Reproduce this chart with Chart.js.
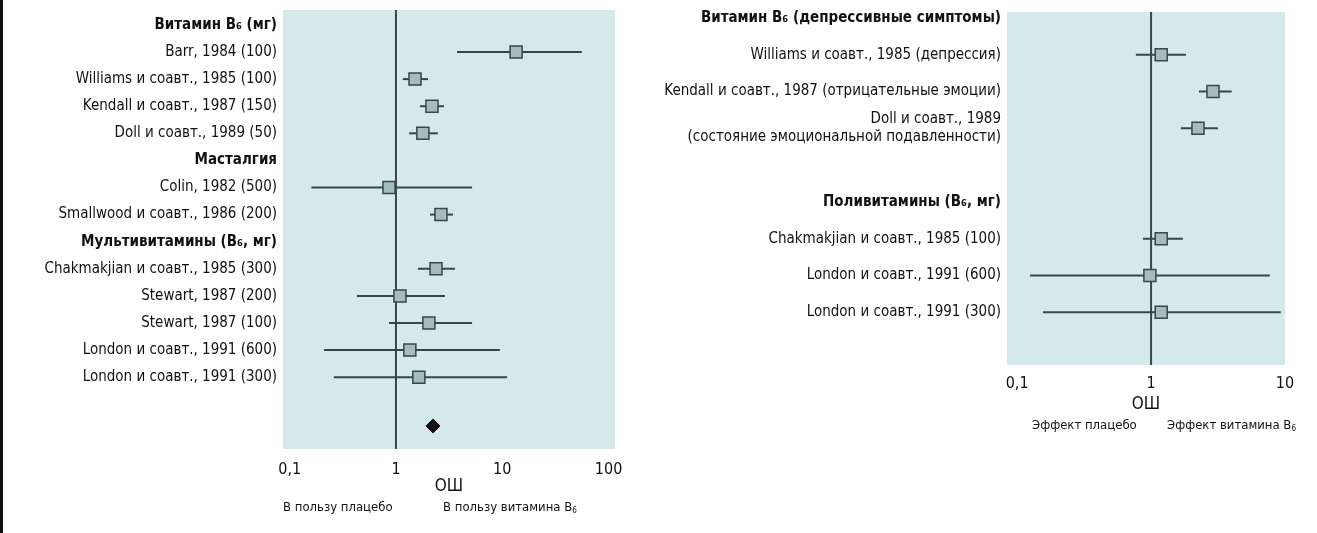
<!DOCTYPE html>
<html>
<head>
<meta charset="utf-8">
<script src="https://cdn.jsdelivr.net/npm/chart.js"></script>
<style>
  body { margin: 0; background: #fff; width: 1317px; height: 533px; position: relative; overflow: hidden;
         font-family: 'Liberation Sans Narrow', 'DejaVu Sans Condensed', sans-serif; color: #111; }
  #edge { position: absolute; left: 0; top: 0; width: 3px; height: 533px; background: #111; }
  canvas { position: absolute; top: 0; }
  .note { position: absolute; font-size: 13px; white-space: nowrap; line-height: 16px; }
  .note sub { font-size: 8px; vertical-align: -2px; }
</style>
</head>
<body>
<div id="edge"></div>
<canvas id="left" width="640" height="533" style="left:0"></canvas>
<canvas id="right" width="677" height="440" style="left:640px"></canvas>
<div class="note" style="left:283px; top:499px">В пользу плацебо</div>
<div class="note" style="left:443px; top:499px">В пользу витамина B<sub>6</sub></div>
<div class="note" style="left:1032px; top:417px">Эффект плацебо</div>
<div class="note" style="left:1167px; top:417px">Эффект витамина B<sub>6</sub></div>
<script>
    // left panel: premenstrual syndrome
    var leftLabels = ['Витамин B₆ (мг)', 'Barr, 1984 (100)', 'Williams и соавт., 1985 (100)',
        'Kendall и соавт., 1987 (150)', 'Doll и соавт., 1989 (50)', 'Масталгия', 'Colin, 1982 (500)',
        'Smallwood и соавт., 1986 (200)', 'Мультивитамины (B₆, мг)', 'Chakmakjian и соавт., 1985 (300)',
        'Stewart, 1987 (200)', 'Stewart, 1987 (100)', 'London и соавт., 1991 (600)', 'London и соавт., 1991 (300)'];
    var leftRows = [0, 1, 2, 3, 4, 5, 6, 7, 8, 9, 10, 11, 12, 13];
    var leftHeaders = [0, 5, 8];
    var leftOR = [null, 13.5, 1.51, 2.18, 1.79, null, 0.86, 2.65, null, 2.38, 1.09, 2.04, 1.35, 1.64];
    var leftLow = [null, 3.75, 1.16, 1.68, 1.33, null, 0.16, 2.09, null, 1.61, 0.43, 0.86, 0.21, 0.26];
    var leftHigh = [null, 56, 2.0, 2.83, 2.48, null, 5.2, 3.44, null, 3.59, 2.89, 5.2, 9.5, 11.1];
    var leftPooled = 2.23;
    var leftPooledRow = 14.8;
    var leftTicks = [0.1, 1, 10, 100];

    // right panel: depressive symptoms
    var rightLabels = ['Витамин B₆ (депрессивные симптомы)', 'Williams и соавт., 1985 (депрессия)',
        'Kendall и соавт., 1987 (отрицательные эмоции)',
        ['Doll и соавт., 1989', '(состояние эмоциональной подавленности)'],
        'Поливитамины (B₆, мг)', 'Chakmakjian и соавт., 1985 (100)', 'London и соавт., 1991 (600)',
        'London и соавт., 1991 (300)'];
    var rightRows = [0, 1, 2, 3, 5, 6, 7, 8];
    var rightHeaders = [0, 4];
    var rightOR = [null, 1.19, 2.9, 2.24, null, 1.19, 0.98, 1.19];
    var rightLow = [null, 0.77, 2.28, 1.67, null, 0.87, 0.125, 0.156];
    var rightHigh = [null, 1.82, 4.0, 3.16, null, 1.73, 7.7, 9.3];
    var rightTicks = [0.1, 1, 10];

    var FONT = "'Liberation Sans Narrow', 'DejaVu Sans Condensed', sans-serif";

    var panelBg = {
        id: 'panelBg',
        beforeDatasetsDraw: function(chart) {
            var a = chart.chartArea, ctx = chart.ctx;
            ctx.save();
            ctx.fillStyle = '#d5e8eb';
            ctx.fillRect(a.left, a.top, a.right - a.left, a.bottom - a.top);
            var x = chart.scales.x.getPixelForValue(1);
            ctx.strokeStyle = '#3a4749';
            ctx.lineWidth = 2;
            ctx.beginPath();
            ctx.moveTo(x, a.top);
            ctx.lineTo(x, a.bottom);
            ctx.stroke();
            ctx.restore();
        }
    };

    function forest(id, p) {
        var datasets = [];
        var squares = [];
        for (var i = 0; i < p.labels.length; i++) {
            if (p.or[i] == null) continue;
            squares.push({x: p.or[i], y: p.rows[i]});
            datasets.push({
                data: [{x: p.low[i], y: p.rows[i]}, {x: p.high[i], y: p.rows[i]}],
                showLine: true, borderColor: '#34464a', borderWidth: 2, pointRadius: 0, order: 2
            });
        }
        datasets.push({
            data: squares, pointStyle: 'rect', pointRadius: 8.5,
            backgroundColor: '#a3bcc2', borderColor: '#34474a', borderWidth: 1.5, order: 1
        });
        if (p.pooled) {
            datasets.push({
                data: [{x: p.pooled, y: p.pooledRow}], pointStyle: 'rectRot', pointRadius: 7,
                backgroundColor: '#111', borderColor: '#111', borderWidth: 1, order: 0
            });
        }

        return new Chart(document.getElementById(id), {
            type: 'scatter',
            data: { datasets: datasets },
            plugins: [panelBg],
            options: {
                responsive: false,
                animation: false,
                layout: { padding: { top: p.top, right: p.right, left: 0, bottom: 0 } },
                plugins: { legend: { display: false }, tooltip: { enabled: false } },
                scales: {
                    x: {
                        type: 'logarithmic', min: p.xmin, max: p.xmax,
                        grid: { display: false, drawTicks: false }, border: { display: false },
                        afterBuildTicks: function(axis) { axis.ticks = p.ticks.map(function(v) { return {value: v}; }); },
                        afterFit: function(axis) {
                            axis.height = p.xHeight;
                            axis.paddingLeft = 0; axis.paddingRight = 0;
                        },
                        ticks: {
                            padding: p.tickPad, color: '#111', autoSkip: false, maxRotation: 0,
                            font: { family: FONT, size: 16 },
                            callback: function(v) { return String(v).replace('.', ','); }
                        },
                        title: {
                            display: true, text: 'ОШ', color: '#111',
                            font: { family: FONT, size: 17 }, padding: { top: 0, bottom: p.titlePad }
                        }
                    },
                    y: {
                        type: 'linear', reverse: true, min: p.ymin, max: p.ymax,
                        grid: { display: false, drawTicks: false }, border: { display: false },
                        afterBuildTicks: function(axis) { axis.ticks = p.rows.map(function(r) { return {value: r}; }); },
                        afterFit: function(axis) {
                            axis.width = p.yWidth;
                            axis.paddingTop = 0; axis.paddingBottom = 0;
                        },
                        ticks: {
                            padding: 6, color: '#111', autoSkip: false,
                            font: function(ctx) {
                                var bold = ctx.index != null && p.headers.indexOf(ctx.index) >= 0;
                                return { family: FONT, size: 15, weight: bold ? 'bold' : 'normal' };
                            },
                            callback: function(v, i) { return p.labels[i]; }
                        }
                    }
                }
            }
        });
    }

    forest('left', {
        labels: leftLabels, rows: leftRows, headers: leftHeaders,
        or: leftOR, low: leftLow, high: leftHigh, pooled: leftPooled, pooledRow: leftPooledRow,
        ticks: leftTicks, xmin: 0.0865, xmax: 115, ymin: -0.55, ymax: 15.65,
        top: 9, right: 25, yWidth: 283, xHeight: 84, tickPad: 11, titlePad: 36
    });

    forest('right', {
        labels: rightLabels, rows: rightRows, headers: rightHeaders,
        or: rightOR, low: rightLow, high: rightHigh, pooled: null,
        ticks: rightTicks, xmin: 0.084, xmax: 10, ymin: -0.16, ymax: 9.43,
        top: 12, right: 32, yWidth: 367, xHeight: 75, tickPad: 9, titlePad: 25
    });
</script>
</body>
</html>
